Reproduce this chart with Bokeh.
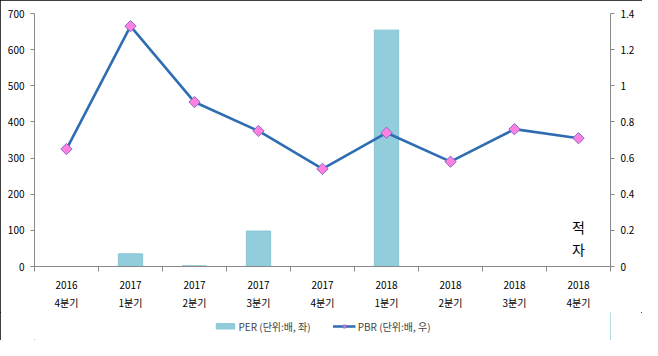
import math
from bokeh.plotting import figure
from bokeh.layouts import column
from bokeh.models import (Range1d, LinearAxis, FixedTicker, NumeralTickFormatter,
                          Legend, LegendItem, ColumnDataSource)
from bokeh.core.properties import value
from bokeh.embed import file_html
from bokeh.resources import INLINE

years = ["2016", "2017", "2017", "2017", "2017", "2018", "2018", "2018", "2018"]
quarters = ["4분기", "1분기", "2분기", "3분기", "4분기", "1분기", "2분기", "3분기", "4분기"]
per = [float("nan"), 35, 2, 98, float("nan"), 654, float("nan"), float("nan"), float("nan")]
pbr = [0.65, 1.33, 0.91, 0.75, 0.54, 0.74, 0.58, 0.76, 0.71]
left_ticks = [0, 100, 200, 300, 400, 500, 600, 700]
right_ticks = [0, 0.2, 0.4, 0.6, 0.8, 1.0, 1.2, 1.4]
note_text = "적\n자"
note_pos = 8
note_y = 80
per_label = "PER (단위:배, 좌)"
pbr_label = "PBR (단위:배, 우)"

FONT = "Noto Sans CJK KR"
BAR_FILL, BAR_LINE = "#92CDDC", "#86C3D4"
LINE_C = "#2F6DB3"
MK_FILL, MK_LINE = "#FF80E0", "#7A6FC8"

xs = list(range(len(years)))
src = ColumnDataSource(dict(x=xs, per=per, pbr=pbr))

p = figure(width=642, height=312, output_backend="svg", toolbar_location=None,
           x_range=Range1d(-0.5, len(years) - 0.5), y_range=Range1d(0, 700),
           min_border_left=34, min_border_right=32, min_border_top=13, min_border_bottom=44)
p.extra_y_ranges = {"pbr": Range1d(0, 1.4)}
p.outline_line_color = None
p.xgrid.visible = False
p.ygrid.visible = False

bars = p.vbar(x="x", top="per", width=0.38, source=src, fill_color=BAR_FILL,
              line_color=BAR_LINE, line_width=1)
line = p.line(x="x", y="pbr", source=src, y_range_name="pbr", line_color=LINE_C, line_width=2.6)
pts = p.scatter(x="x", y="pbr", source=src, y_range_name="pbr", marker="square", size=8,
                angle=math.pi / 4, fill_color=MK_FILL, line_color=MK_LINE, line_width=1)

p.text(x=[note_pos], y=[note_y], text=[note_text], text_font=value(FONT), text_font_size="14px",
       text_align="center", text_baseline="middle", text_line_height=1.1, text_color="black")

# bottom axis
xa = p.xaxis[0]
xa.ticker = FixedTicker(ticks=xs, minor_ticks=[i - 0.5 for i in range(len(years) + 1)])
xa.major_label_overrides = {i: f"{years[i]}\n{quarters[i]}" for i in xs}
xa.major_tick_out = 0
xa.major_tick_in = 0
xa.minor_tick_out = 5
xa.minor_tick_in = 0
xa.minor_tick_line_color = "#888888"
xa.axis_line_color = "#888888"
xa.major_label_text_font = FONT
xa.major_label_text_font_size = "10px"
xa.major_label_text_color = "black"
xa.major_label_standoff = 5

ya = p.yaxis[0]
ya.ticker = FixedTicker(ticks=left_ticks)
ya.minor_tick_line_color = None
ya.major_tick_out = 4
ya.major_tick_in = 0
ya.axis_line_color = "#888888"
ya.major_tick_line_color = "#888888"
ya.major_label_text_font = FONT
ya.major_label_text_font_size = "10px"
ya.major_label_text_color = "black"
ya.major_label_standoff = 6

ra = LinearAxis(y_range_name="pbr", ticker=FixedTicker(ticks=right_ticks),
                formatter=NumeralTickFormatter(format="0.[0]"))
ra.minor_tick_line_color = None
ra.major_tick_out = 4
ra.major_tick_in = 0
ra.axis_line_color = "#888888"
ra.major_tick_line_color = "#888888"
ra.major_label_text_font = FONT
ra.major_label_text_font_size = "10px"
ra.major_label_text_color = "black"
ra.major_label_standoff = 6
p.add_layout(ra, "right")

# legend strip (separate small figure so the legend is not clipped);
# its proxy glyphs sit outside the visible range, only the legend swatches show
lg = figure(width=642, height=28, output_backend="svg", toolbar_location=None,
            x_range=Range1d(0, 1), y_range=Range1d(0, 1),
            min_border=0, min_border_left=34, min_border_right=32)
lg.axis.visible = False
lg.grid.visible = False
lg.outline_line_color = None
proxy = ColumnDataSource(dict(x=[50.0], y=[50.0]))
r_bar = lg.vbar(x="x", top="y", width=0.1, source=proxy, fill_color=BAR_FILL,
                line_color=BAR_LINE)
r_line = lg.line(x="x", y="y", source=proxy, line_color=LINE_C, line_width=2.6)
r_pts = lg.scatter(x="x", y="y", source=proxy, marker="square", size=6, angle=math.pi / 4,
                   fill_color=MK_FILL, line_color=MK_LINE, line_width=1)
legend = Legend(items=[LegendItem(label=per_label, renderers=[r_bar]),
                       LegendItem(label=pbr_label, renderers=[r_line, r_pts])],
                orientation="horizontal", location="center",
                label_text_font=FONT, label_text_font_size="10px", label_height=14,
                glyph_width=23, glyph_height=7, spacing=22, padding=0, margin=0,
                border_line_color=None, background_fill_alpha=0, label_standoff=2)
lg.add_layout(legend, "center")

layout = column(p, lg, spacing=0)
layout.styles = {"outline": "1px solid #000000", "outline-offset": "-1px"}

open("out.html", "w").write(file_html(layout, INLINE))
